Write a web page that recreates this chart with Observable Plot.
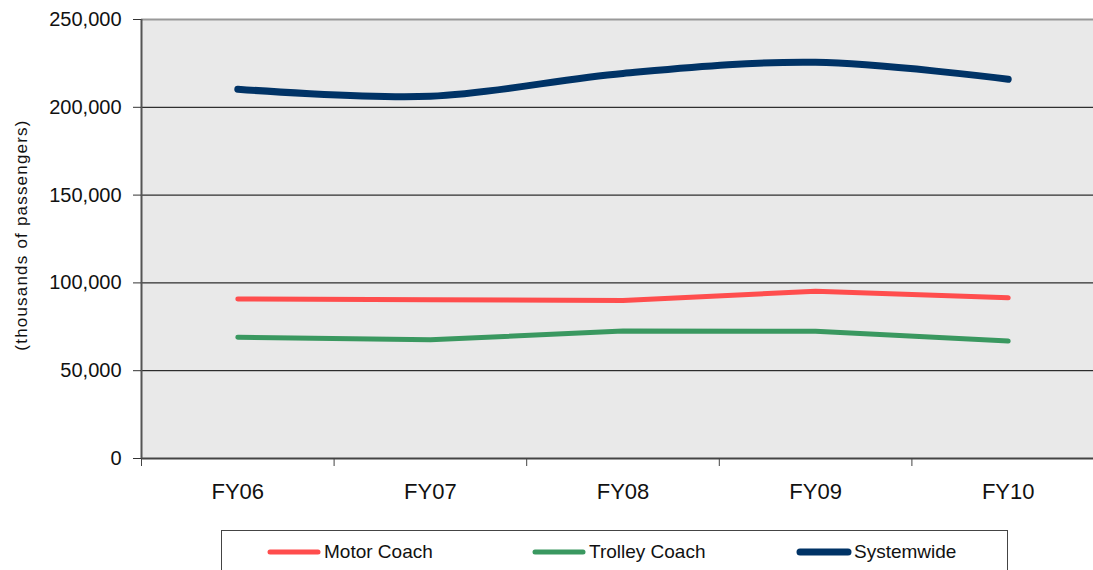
<!DOCTYPE html>
<html>
<head>
<meta charset="utf-8">
<script src="https://cdn.jsdelivr.net/npm/d3@7"></script>
<script src="https://cdn.jsdelivr.net/npm/@observablehq/plot@0.6"></script>
<style>
  html, body { margin: 0; padding: 0; background: #fff; overflow: hidden; width: 1093px; height: 570px; }
  #chart { position: relative; width: 1093px; height: 570px; font-family: "Liberation Sans", Arial, sans-serif; }
  #legend { position: absolute; left: 221px; top: 530px; width: 787px; height: 60px; border: 1px solid #444; box-sizing: border-box; display: flex; }
  .item { width: 265px; flex: 0 0 265px; display: flex; align-items: center; height: 42px; font-size: 19px; color: #111; }
  .item:first-child { margin-left: 44px; }
  .item svg { margin-right: 2px; }
</style>
</head>
<body>
<div id="chart"></div>
<script>
const years = ["FY06", "FY07", "FY08", "FY09", "FY10"];
const seriesNames = ["Motor Coach", "Trolley Coach", "Systemwide"];
const motorCoach = [90800, 90400, 90000, 95300, 91500];
const trolleyCoach = [69100, 67600, 72600, 72400, 66900];
const systemwide = [210300, 206300, 219300, 225600, 216000];
const seriesColors = ["#ff4d4d", "#3a9860", "#003366"];
const seriesWidths = [5, 5, 7];
const seriesCurves = ["linear", "linear", "catmull-rom"];
const yTicks = [0, 50000, 100000, 150000, 200000, 250000];
const gridValues = [50000, 100000, 150000, 200000];
const yLabel = "(thousands of passengers)";

const seriesValues = [motorCoach, trolleyCoach, systemwide];
const idx = years.map((_, i) => i);
const bounds = years.map((_, i) => i - 0.5).concat([years.length - 0.5]);

const lineMarks = seriesValues.map((vals, s) =>
  Plot.line(idx.map(i => ({i, v: vals[i]})), {
    x: "i", y: "v",
    stroke: seriesColors[s], strokeWidth: seriesWidths[s],
    curve: seriesCurves[s], strokeLinecap: "round", strokeLinejoin: "round"
  })
);

const chart = Plot.plot({
  width: 1093,
  height: 525,
  marginLeft: 141,
  marginTop: 19,
  marginBottom: 67,
  marginRight: -11,
  style: { fontFamily: "'Liberation Sans', Arial, sans-serif", color: "#111", background: "transparent" },
  x: { type: "linear", domain: [-0.5, years.length - 0.5] },
  y: { domain: [0, 250000] },
  marks: [
    Plot.frame({ fill: "#e9e9e9", stroke: null }),
    Plot.ruleY(gridValues, { stroke: "#000", strokeWidth: 1 }),
    Plot.ruleY([250000], { stroke: "#999", strokeWidth: 2 }),
    Plot.ruleY([0], { stroke: "#444", strokeWidth: 2 }),
    Plot.ruleX([bounds[0]], { stroke: "#555", strokeWidth: 2 }),
    Plot.axisY(yTicks, {
      tickSize: 8, tickPadding: 12, tickFormat: d3.format(","),
      fontSize: 20, stroke: "#333", label: null
    }),
    Plot.axisX(bounds, { tickSize: 8, tickFormat: () => "", stroke: "#444", label: null }),
    Plot.axisX(idx, {
      tickSize: 0, tickPadding: 25, tickFormat: i => years[i],
      fontSize: 22, label: null
    }),
    Plot.text([yLabel], {
      frameAnchor: "left", textAnchor: "middle", rotate: -90, dx: -120, dy: -4,
      fontSize: 17, fill: "#111"
    }),
    ...lineMarks
  ]
});

d3.select(chart).selectAll("text")
  .filter(function() { return this.textContent === yLabel; })
  .style("letter-spacing", "1.2px");

const root = document.getElementById("chart");
root.appendChild(chart);

const legend = document.createElement("div");
legend.id = "legend";
seriesNames.forEach((name, s) => {
  const item = document.createElement("div");
  item.className = "item";
  const sw = d3.create("svg").attr("width", 56).attr("height", 10);
  sw.append("line").attr("x1", 4).attr("x2", 52).attr("y1", 5).attr("y2", 5)
    .attr("stroke", seriesColors[s]).attr("stroke-width", seriesWidths[s]).attr("stroke-linecap", "round");
  item.appendChild(sw.node());
  const t = document.createElement("span");
  t.textContent = name;
  item.appendChild(t);
  legend.appendChild(item);
});
root.appendChild(legend);
</script>
</body>
</html>
